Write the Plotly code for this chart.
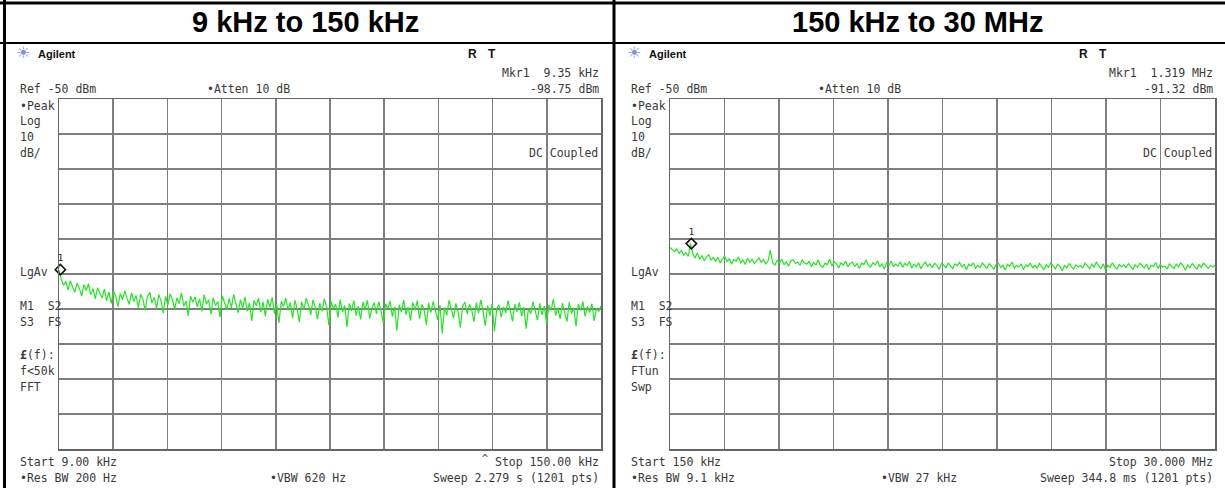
import plotly.graph_objects as go

W, H = 1225, 488

# ---------------- data ----------------
panel_titles = ["9 kHz to 150 kHz", "150 kHz to 30 MHz"]

left_start_khz, left_stop_khz = 9.0, 150.0
left_marker_khz, left_marker_dbm = 9.35, -98.75
left_trace_dbm = [
    -98.8, -101.5, -103.2, -102.1, -104.6, -101.9, -103.8, -105.2, -102.6, -104.1, -106.3, -103.0, -104.7, -102.8, -105.9, -104.2, -107.1, -103.9, -105.4, -106.8,
    -104.3, -107.6, -105.1, -108.4, -104.9, -106.2, -109.3, -105.6, -107.4, -104.8, -106.9, -108.7, -105.3, -107.9, -106.1, -109.6, -105.8, -107.2, -110.4, -106.5,
    -105.2, -108.3, -106.7, -109.8, -105.9, -107.6, -111.2, -106.4, -108.9, -105.7, -107.3, -110.1, -106.8, -108.5, -105.4, -109.2, -107.7, -112.0, -106.3, -108.1,
    -106.6, -109.4, -107.1, -110.7, -105.9, -108.6, -107.4, -111.5, -106.8, -109.0, -107.9, -112.3, -106.2, -108.4, -110.2, -107.0, -109.7, -105.8, -108.9, -111.1,
    -107.3, -109.8, -106.5, -110.6, -108.2, -113.4, -107.6, -109.1, -106.9, -110.9, -108.0, -112.1, -107.2, -109.5, -106.7, -111.3, -108.6, -114.0, -107.8, -109.3,
    -106.8, -110.4, -108.1, -112.6, -107.5, -109.9, -113.8, -107.9, -110.2, -106.9, -108.8, -111.7, -107.4, -109.6, -112.9, -108.3, -110.7, -107.1, -109.4, -114.6,
    -107.8, -110.1, -108.6, -112.4, -107.3, -110.8, -109.0, -115.1, -108.4, -110.5, -107.6, -111.9, -109.2, -113.0, -108.0, -110.3, -107.5, -112.7, -109.7, -108.2,
    -111.4, -107.9, -110.6, -113.9, -108.5, -110.0, -107.7, -112.2, -109.3, -116.2, -108.8, -110.9, -107.4, -111.6, -109.5, -113.3, -108.1, -110.4, -107.6, -112.8,
    -108.7, -110.2, -114.5, -108.3, -111.0, -107.8, -110.6, -113.1, -108.9, -117.0, -109.6, -111.8, -107.5, -110.1, -112.6, -108.4, -110.9, -115.3, -109.1, -108.0,
    -111.5, -108.6, -110.3, -113.7, -108.2, -111.2, -107.4, -110.7, -114.8, -109.0, -111.9, -108.5, -116.4, -110.0, -108.8, -112.3, -109.4, -111.1, -107.6, -110.5,
    -113.5, -108.7, -110.8, -108.1, -112.0, -109.5, -115.6, -109.8, -111.4, -107.9, -110.6, -113.2, -108.4, -111.7, -109.2, -114.1, -108.9, -110.3, -107.2, -111.9,
    -109.6, -112.8, -108.3, -110.9, -113.6, -108.0, -111.3, -109.7, -114.9, -108.6, -110.4, -107.8, -112.1, -109.3, -111.0, -108.5, -113.4, -109.9, -110.7, -109.1,
]

right_start_mhz, right_stop_mhz = 0.15, 30.0
right_marker_mhz, right_marker_dbm = 1.319, -91.32
right_trace_dbm = [
    -92.4, -92.9, -93.6, -92.8, -94.1, -93.3, -94.6, -93.9, -95.0, -91.3, -94.2, -95.4, -94.0, -95.8, -94.7, -96.2, -95.1, -94.5, -96.0, -95.3,
    -96.4, -95.2, -96.9, -95.7, -94.9, -96.5, -95.6, -97.2, -95.9, -96.3, -95.1, -96.8, -96.0, -97.3, -95.5, -96.6, -95.8, -97.0, -96.2, -95.4,
    -96.7, -95.9, -97.1, -96.3, -93.2, -96.8, -97.4, -96.1, -96.9, -95.8, -97.3, -96.5, -97.8, -96.2, -95.9, -97.0, -96.6, -97.5, -96.0, -96.8,
    -97.2, -96.3, -97.9, -96.7, -97.4, -96.0, -97.6, -98.1, -96.9, -97.3, -95.8, -97.7, -96.5, -97.1, -98.3, -96.8, -97.5, -96.4, -97.9, -97.0,
    -96.6, -97.8, -97.0, -98.4, -96.9, -97.3, -95.9, -97.6, -98.0, -96.8, -97.4, -96.2, -97.9, -97.1, -98.6, -96.7, -97.5, -96.3, -97.8, -97.2,
    -97.7, -96.5, -98.1, -97.0, -97.6, -96.4, -98.3, -97.2, -97.9, -96.8, -98.5, -97.3, -96.6, -97.8, -97.1, -98.2, -96.9, -97.5, -98.7, -97.0,
    -97.4, -98.2, -96.9, -97.8, -98.5, -97.1, -97.6, -96.7, -98.0, -97.3, -98.8, -97.2, -97.7, -96.8, -98.3, -97.5, -98.1, -96.9, -97.6, -98.4,
    -97.0, -97.9, -98.6, -97.3, -96.8, -98.1, -97.5, -98.9, -97.2, -97.8, -96.6, -98.3, -97.6, -98.0, -97.1, -98.7, -97.4, -97.9, -96.9, -98.2,
    -97.5, -98.4, -97.0, -97.9, -98.8, -97.3, -98.1, -96.8, -97.7, -98.5, -97.2, -97.8, -99.1, -97.6, -98.2, -97.0, -97.9, -98.6, -97.4, -98.0,
    -97.6, -98.3, -96.9, -97.8, -98.5, -97.2, -98.0, -96.5, -97.7, -98.4, -97.1, -98.9, -97.5, -98.1, -96.8, -97.9, -98.6, -97.3, -98.0, -97.4,
    -98.2, -97.0, -97.8, -98.7, -97.4, -98.1, -96.9, -97.6, -98.3, -97.2, -98.8, -97.5, -97.9, -96.7, -98.4, -97.3, -98.0, -97.7, -98.6, -97.1,
    -97.8, -98.5, -97.2, -98.0, -96.8, -97.6, -98.9, -97.4, -98.2, -97.0, -97.9, -98.6, -97.3, -98.1, -96.9, -97.7, -98.4, -97.5, -98.0, -97.6,
]

ref_level_dbm = -50.0
db_per_div = 10.0
n_divs = 10

left_texts = {
    "mkr": ["Mkr1  9.35 kHz", "-98.75 dBm"],
    "fn": ["<b>£</b>(f):", "f<50k", "FFT"],
    "start": "Start 9.00 kHz", "stop": "Stop 150.00 kHz",
    "rbw": "•Res BW 200 Hz", "vbw": "•VBW 620 Hz", "sweep": "Sweep 2.279 s (1201 pts)",
}
right_texts = {
    "mkr": ["Mkr1  1.319 MHz", "-91.32 dBm"],
    "fn": ["<b>£</b>(f):", "FTun", "Swp"],
    "start": "Start 150 kHz", "stop": "Stop 30.000 MHz",
    "rbw": "•Res BW 9.1 kHz", "vbw": "•VBW 27 kHz", "sweep": "Sweep 344.8 ms (1201 pts)",
}

# ---------------- layout helpers ----------------
def px(x):
    return x / W

def py(y):
    return 1 - y / H

MONO = "DejaVu Sans Mono"
TXT = "#3a3a3a"
GRID = "#7e7e7e"
TRACE = "#22e622"
FS = 11.5

fig = go.Figure()

def sweep_freqs(start, stop, n):
    step = (stop - start) / (n - 1)
    return [start + i * step for i in range(n)]

lx = sweep_freqs(left_start_khz, left_stop_khz, len(left_trace_dbm))
rx = sweep_freqs(right_start_mhz, right_stop_mhz, len(right_trace_dbm))

fig.add_trace(go.Scatter(x=lx, y=left_trace_dbm, mode="lines",
                         line=dict(color=TRACE, width=1.2), xaxis="x", yaxis="y",
                         hoverinfo="skip", showlegend=False))
fig.add_trace(go.Scatter(x=rx, y=right_trace_dbm, mode="lines",
                         line=dict(color=TRACE, width=1.2), xaxis="x2", yaxis="y2",
                         hoverinfo="skip", showlegend=False))
for (mx, my, xa, ya) in [(left_marker_khz, left_marker_dbm, "x", "y"),
                         (right_marker_mhz, right_marker_dbm, "x2", "y2")]:
    fig.add_trace(go.Scatter(x=[mx], y=[my], mode="markers+text",
                             text=["1"], textposition="top center",
                             textfont=dict(family=MONO, size=9, color="#222"),
                             marker=dict(symbol="diamond-open", size=8, color="#111",
                                         line=dict(width=1.5, color="#111")),
                             xaxis=xa, yaxis=ya, showlegend=False, hoverinfo="skip",
                             cliponaxis=False))

bottom_db = ref_level_dbm - db_per_div * n_divs

def xaxis(dom, start, stop):
    return dict(domain=dom, range=[start, stop], tick0=start,
                dtick=(stop - start) / n_divs, showgrid=True, gridcolor=GRID,
                gridwidth=1.5, showline=True, mirror=True, linecolor="#666666",
                linewidth=1.5, zeroline=False, showticklabels=False, ticks="",
                fixedrange=True)

def yaxis(dom, anchor):
    return dict(domain=dom, anchor=anchor, range=[bottom_db, ref_level_dbm],
                tick0=bottom_db, dtick=db_per_div, showgrid=True, gridcolor=GRID,
                gridwidth=1.5, showline=True, mirror=True, linecolor="#666666",
                linewidth=1.5, zeroline=False, showticklabels=False, ticks="",
                fixedrange=True)

ydom = [py(449), py(99)]
fig.update_layout(
    width=W, height=H, margin=dict(l=0, r=0, t=0, b=0),
    paper_bgcolor="white", plot_bgcolor="white", showlegend=False,
    xaxis=dict(xaxis([px(59), px(601)], left_start_khz, left_stop_khz), anchor="y"),
    yaxis=yaxis(ydom, "x"),
    xaxis2=dict(xaxis([px(670), px(1215)], right_start_mhz, right_stop_mhz), anchor="y2"),
    yaxis2=yaxis(ydom, "x2"),
)

ann = []

def t(x, y, text, anchor="left", size=FS, family=MONO, color=TXT):
    ann.append(dict(x=px(x), y=py(y), xref="paper", yref="paper", text=text,
                    showarrow=False, xanchor=anchor, yanchor="middle",
                    font=dict(family=family, size=size, color=color)))

SANS = "Liberation Sans, Arial"
for i, (dx, gx_r, tx) in enumerate([(0, 601, left_texts), (611, 1215, right_texts)]):
    # panel title
    t(305 + dx * 1.003, 22, "<b>%s</b>" % panel_titles[i], anchor="center", size=29,
      family=SANS, color="#000")
    # header
    t(14 + dx, 53, "☀", size=16, family="DejaVu Sans", color="#7b8fe6")
    t(36 + dx, 54, "<b>Agilent</b>", size=11, family=SANS, color="#111")
    t(466 + dx, 54, "<b>R</b>", size=12, family=SANS, color="#111")
    t(486 + dx, 54, "<b>T</b>", size=12, family=SANS, color="#111")
    t(gx_r, 73, tx["mkr"][0], anchor="right")
    t(gx_r, 89, tx["mkr"][1], anchor="right")
    t(18 + dx, 89, "Ref -50 dBm")
    t(205 + dx, 89, "•Atten 10 dB")
    t(18 + dx, 106, "•Peak")
    t(18 + dx, 121, "Log")
    t(18 + dx, 137, "10")
    t(18 + dx, 153, "dB/")
    t(gx_r - 1, 153, "DC Coupled", anchor="right")
    t(18 + dx, 272, "LgAv")
    t(18 + dx, 306, "M1  S2")
    t(18 + dx, 322, "S3  FS")
    t(18 + dx, 355, tx["fn"][0])
    t(18 + dx, 371, tx["fn"][1])
    t(18 + dx, 387, tx["fn"][2])
    t(18 + dx, 462, tx["start"])
    t(gx_r, 462, tx["stop"], anchor="right")
    t(18 + dx, 478, tx["rbw"])
    t(268 + dx, 478, tx["vbw"])
    t(gx_r, 478, tx["sweep"], anchor="right")

t(485, 458, "^", anchor="center", size=10)

fig.update_layout(annotations=ann)

shapes = [
    dict(type="line", xref="paper", yref="paper", x0=0, x1=1, y0=py(3), y1=py(3),
         line=dict(color="black", width=3)),
    dict(type="line", xref="paper", yref="paper", x0=0, x1=1, y0=py(43), y1=py(43),
         line=dict(color="black", width=2)),
    dict(type="line", xref="paper", yref="paper", x0=px(4.5), x1=px(4.5), y0=0, y1=1,
         line=dict(color="black", width=3)),
    dict(type="line", xref="paper", yref="paper", x0=px(614), x1=px(614), y0=0, y1=1,
         line=dict(color="black", width=3)),
]
fig.update_layout(shapes=shapes)

fig.write_html(
    "out.html",
    config={"displayModeBar": False, "staticPlot": True},
    post_script="document.body.style.margin='0';document.body.style.overflow='hidden';",
)
